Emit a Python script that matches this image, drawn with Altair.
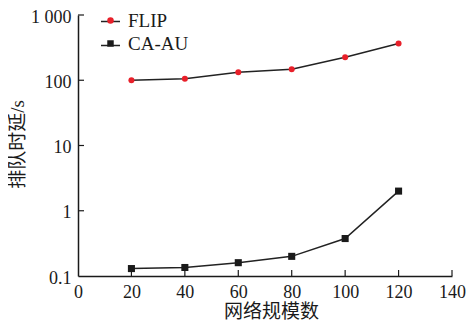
import altair as alt
import pandas as pd

sizes = [20, 40, 60, 80, 100, 120]
flip = [100, 105, 133, 148, 225, 365]
caau = [0.13, 0.135, 0.16, 0.2, 0.375, 2.0]
series_names = ["FLIP", "CA-AU"]
x_ticks = [0, 20, 40, 60, 80, 100, 120, 140]
y_ticks = [0.1, 1, 10, 100, 1000]

rows = []
for s, v in zip(sizes, flip):
    rows.append({"size": s, "delay": v, "series": "FLIP"})
for s, v in zip(sizes, caau):
    rows.append({"size": s, "delay": v, "series": "CA-AU"})
df = pd.DataFrame(rows)

FONT = "Liberation Serif, Noto Sans CJK SC"
W, H = 374, 261

xscale = alt.Scale(domain=[0, 140], nice=False)
yscale = alt.Scale(type="log", domain=[0.1, 1000], nice=False)

xaxis = alt.Axis(values=x_ticks, title="网络规模数", tickSize=0, grid=False,
                 labelPadding=7, labelFontSize=18, labelFont=FONT, labelColor="#1a1a1a",
                 titleFont=FONT, titleFontSize=19, titleFontWeight="normal", titleColor="#1a1a1a",
                 titleX=193, titleY=35, titleBaseline="middle", titleAlign="center",
                 domainColor="#1a1a1a", domainWidth=1.5, labelFlush=False)
yaxis = alt.Axis(values=y_ticks, title="排队时延/s", tickSize=0, grid=False,
                 labelPadding=7, labelFontSize=18, labelFont=FONT, labelColor="#1a1a1a",
                 labelOffset=2,
                 labelExpr="datum.value >= 1000 ? '1 000' : (datum.value < 0.5 ? '0.1' : format(datum.value, 'd'))",
                 titleFont=FONT, titleFontSize=19, titleFontWeight="normal", titleColor="#1a1a1a",
                 titleX=-61, titleY=129, titleBaseline="middle", titleAlign="center",
                 domainColor="#1a1a1a", domainWidth=1.5)

base = alt.Chart(df)

lines = base.mark_line(color="#222", strokeWidth=1.5).encode(
    x=alt.X("size:Q", scale=xscale, axis=xaxis),
    y=alt.Y("delay:Q", scale=yscale, axis=yaxis),
    color=alt.Color("series:N", scale=alt.Scale(domain=series_names, range=["#222", "#222"]),
                    legend=alt.Legend(orient="none", legendX=22, legendY=-4, title=None,
                                      symbolType="stroke", symbolSize=361, symbolStrokeWidth=1.5,
                                      labelExpr="''", labelFontSize=19, labelFont=FONT,
                                      rowPadding=3, padding=0)),
)

points = base.mark_point(filled=True, opacity=1).encode(
    x=alt.X("size:Q", scale=xscale),
    y=alt.Y("delay:Q", scale=yscale),
    color=alt.Color("series:N", scale=alt.Scale(domain=series_names, range=["#e8202a", "#1a1a1a"]),
                    legend=alt.Legend(orient="none", legendX=23, legendY=-4, title=None,
                                      symbolSize=42, symbolStrokeWidth=0, symbolOpacity=1,
                                      labelFontSize=19, labelFont=FONT, labelColor="#1a1a1a",
                                      labelOffset=8, rowPadding=3, padding=0)),
    shape=alt.Shape("series:N", scale=alt.Scale(domain=series_names, range=["circle", "square"])),
    size=alt.condition(alt.datum.series == "FLIP", alt.value(36), alt.value(50)),
)

xt = alt.Chart(pd.DataFrame({"t": x_ticks[1:]})).mark_rule(color="#1a1a1a", strokeWidth=1.2).encode(
    x=alt.X("t:Q", scale=xscale), y=alt.value(H), y2=alt.value(H - 6))
yt = alt.Chart(pd.DataFrame({"t": y_ticks[1:]})).mark_rule(color="#1a1a1a", strokeWidth=1.2).encode(
    y=alt.Y("t:Q", scale=yscale), x=alt.value(0), x2=alt.value(6))

chart = alt.layer(xt, yt, lines, points).resolve_scale(color="independent", shape="independent").properties(
    width=W, height=H,
    autosize=alt.AutoSizeParams(type="none"),
    padding={"left": 70, "top": 7, "right": 16, "bottom": 45},
    background="white",
).configure_view(stroke=None)

chart.save("out.html", embed_options={"renderer": "svg", "actions": False})
